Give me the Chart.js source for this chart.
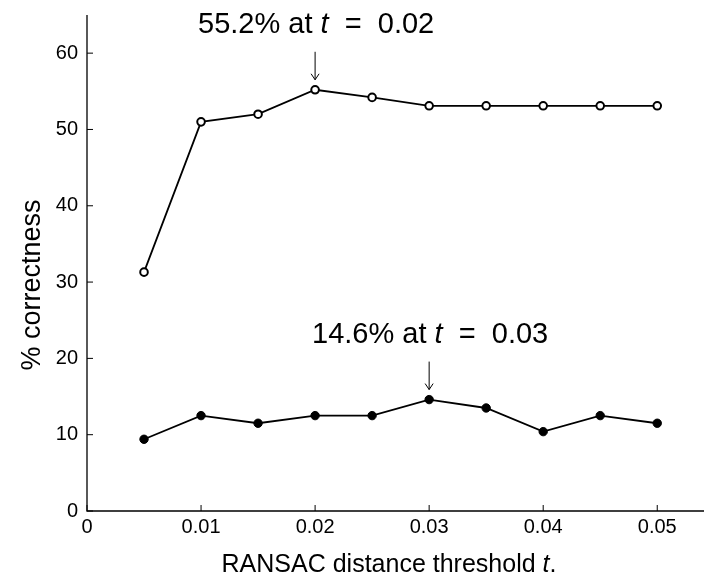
<!doctype html>
<html lang="en">
<head>
    <meta charset="utf-8">
    <title>RANSAC threshold</title>
    <script src="https://cdn.jsdelivr.net/npm/chart.js"></script>
    <style>
        html, body { margin: 0; padding: 0; background: #fff; overflow: hidden; }
        #wrap { width: 704px; height: 579px; }
    </style>
</head>
<body>
    <div id="wrap"><canvas id="grafik"></canvas></div>
    <script type="text/javascript">
        // data
        var thresholds = [0.005, 0.01, 0.015, 0.02, 0.025, 0.03, 0.035, 0.04, 0.045, 0.05];
        var upperSeries = [31.3, 51.0, 52.0, 55.2, 54.2, 53.1, 53.1, 53.1, 53.1, 53.1];
        var lowerSeries = [9.4, 12.5, 11.5, 12.5, 12.5, 14.6, 13.5, 10.4, 12.5, 11.5];
        var xTicks = [0, 0.01, 0.02, 0.03, 0.04, 0.05];
        var yTicks = [0, 10, 20, 30, 40, 50, 60];
        var notes = [
            { x: 0.02, y: 55.2, pre: '55.2% at ', post: ' = 0.02' },
            { x: 0.03, y: 14.6, pre: '14.6% at ', post: ' = 0.03' }
        ];

        var FONT = "'Liberation Sans', sans-serif";

        function toPoints(ys) {
            return thresholds.map(function (t, i) { return { x: t, y: ys[i] }; });
        }

        // axis lines, inward ticks, titles, annotations
        var hiasan = {
            id: 'hiasan',
            afterDraw: function (chart) {
                var ctx = chart.ctx;
                var xs = chart.scales.x, ys = chart.scales.y;
                var area = chart.chartArea;
                ctx.save();
                ctx.strokeStyle = '#000';
                ctx.lineWidth = 1.3;
                ctx.beginPath();
                ctx.moveTo(area.left, area.top);
                ctx.lineTo(area.left, area.bottom);
                ctx.lineTo(area.right, area.bottom);
                ctx.stroke();

                ctx.lineWidth = 1;
                xTicks.forEach(function (v) {
                    var px = xs.getPixelForValue(v);
                    ctx.beginPath();
                    ctx.moveTo(px, area.bottom);
                    ctx.lineTo(px, area.bottom - 6);
                    ctx.stroke();
                });
                yTicks.forEach(function (v) {
                    var py = ys.getPixelForValue(v);
                    ctx.beginPath();
                    ctx.moveTo(area.left, py);
                    ctx.lineTo(area.left + 6, py);
                    ctx.stroke();
                });

                ctx.fillStyle = '#000';
                ctx.textBaseline = 'middle';
                ctx.font = '20px ' + FONT;
                ctx.textAlign = 'center';
                xTicks.forEach(function (v) {
                    ctx.fillText(v === 0 ? '0' : v.toFixed(2), xs.getPixelForValue(v), area.bottom + 16);
                });
                ctx.textAlign = 'right';
                yTicks.forEach(function (v) {
                    var py = ys.getPixelForValue(v);
                    ctx.fillText(String(v), area.left - 9, py);
                });

                // x title with italic t
                var fs = '25px ';
                var a = 'RANSAC distance threshold ';
                ctx.font = fs + FONT;
                var wA = ctx.measureText(a).width;
                var wD = ctx.measureText('.').width;
                ctx.font = 'italic ' + fs + FONT;
                var wT = ctx.measureText('t').width;
                var start = 389 - (wA + wT + wD) / 2;
                ctx.textAlign = 'left';
                ctx.font = fs + FONT;
                ctx.fillText(a, start, 565);
                ctx.font = 'italic ' + fs + FONT;
                ctx.fillText('t', start + wA, 565);
                ctx.font = fs + FONT;
                ctx.fillText('.', start + wA + wT, 565);

                // y title
                ctx.save();
                ctx.translate(33, 285);
                ctx.rotate(-Math.PI / 2);
                ctx.textAlign = 'center';
                ctx.font = '27px ' + FONT;
                ctx.fillText('% correctness', 0, 0);
                ctx.restore();

                // annotations
                notes.forEach(function (n) {
                    var px = xs.getPixelForValue(n.x);
                    var py = ys.getPixelForValue(n.y);
                    var arrowBottom = py - 10;
                    var arrowTop = arrowBottom - 28;
                    ctx.lineWidth = 1;
                    ctx.beginPath();
                    ctx.moveTo(px, arrowTop);
                    ctx.lineTo(px, arrowBottom);
                    ctx.moveTo(px - 4, arrowBottom - 6);
                    ctx.lineTo(px, arrowBottom);
                    ctx.lineTo(px + 4, arrowBottom - 6);
                    ctx.stroke();

                    var af = '29px ';
                    var post = n.post.replace(' = ', '  =  ');
                    ctx.font = af + FONT;
                    var w1 = ctx.measureText(n.pre).width;
                    var w3 = ctx.measureText(post).width;
                    ctx.font = 'italic ' + af + FONT;
                    var w2 = ctx.measureText('t').width;
                    var total = w1 + w2 + w3;
                    var sx = px - total / 2 + 1;
                    var ty = arrowTop - 27;
                    ctx.textAlign = 'left';
                    ctx.font = af + FONT;
                    ctx.fillText(n.pre, sx, ty);
                    ctx.font = 'italic ' + af + FONT;
                    ctx.fillText('t', sx + w1, ty);
                    ctx.font = af + FONT;
                    ctx.fillText(post, sx + w1 + w2, ty);
                });
                ctx.restore();
            }
        };

        var ctx = document.getElementById('grafik').getContext('2d');
        var grafik = new Chart(ctx, {
            type: 'line',
            data: {
                datasets: [{
                    label: 'upper',
                    data: toPoints(upperSeries),
                    borderColor: '#000',
                    borderWidth: 1.8,
                    pointRadius: 3.8,
                    pointBorderWidth: 2,
                    pointBackgroundColor: '#fff',
                    pointBorderColor: '#000',
                    tension: 0
                }, {
                    label: 'lower',
                    data: toPoints(lowerSeries),
                    borderColor: '#000',
                    borderWidth: 1.8,
                    pointRadius: 4.2,
                    pointBorderWidth: 1,
                    pointBackgroundColor: '#000',
                    pointBorderColor: '#000',
                    tension: 0
                }]
            },
            options: {
                responsive: true,
                maintainAspectRatio: false,
                animation: false,
                events: [],
                layout: { autoPadding: false, padding: { top: 15, right: 0, left: 0, bottom: 0 } },
                plugins: { legend: { display: false }, tooltip: { enabled: false } },
                scales: {
                    x: {
                        type: 'linear',
                        min: 0,
                        max: 0.0541,
                        grid: { display: false },
                        border: { display: false },
                        ticks: { display: false },
                        afterFit: function (s) { s.height = 68; }
                    },
                    y: {
                        type: 'linear',
                        min: 0,
                        max: 65,
                        grid: { display: false },
                        border: { display: false },
                        ticks: { display: false },
                        afterFit: function (s) { s.width = 87; }
                    }
                }
            },
            plugins: [hiasan]
        });
    </script>
</body>
</html>
